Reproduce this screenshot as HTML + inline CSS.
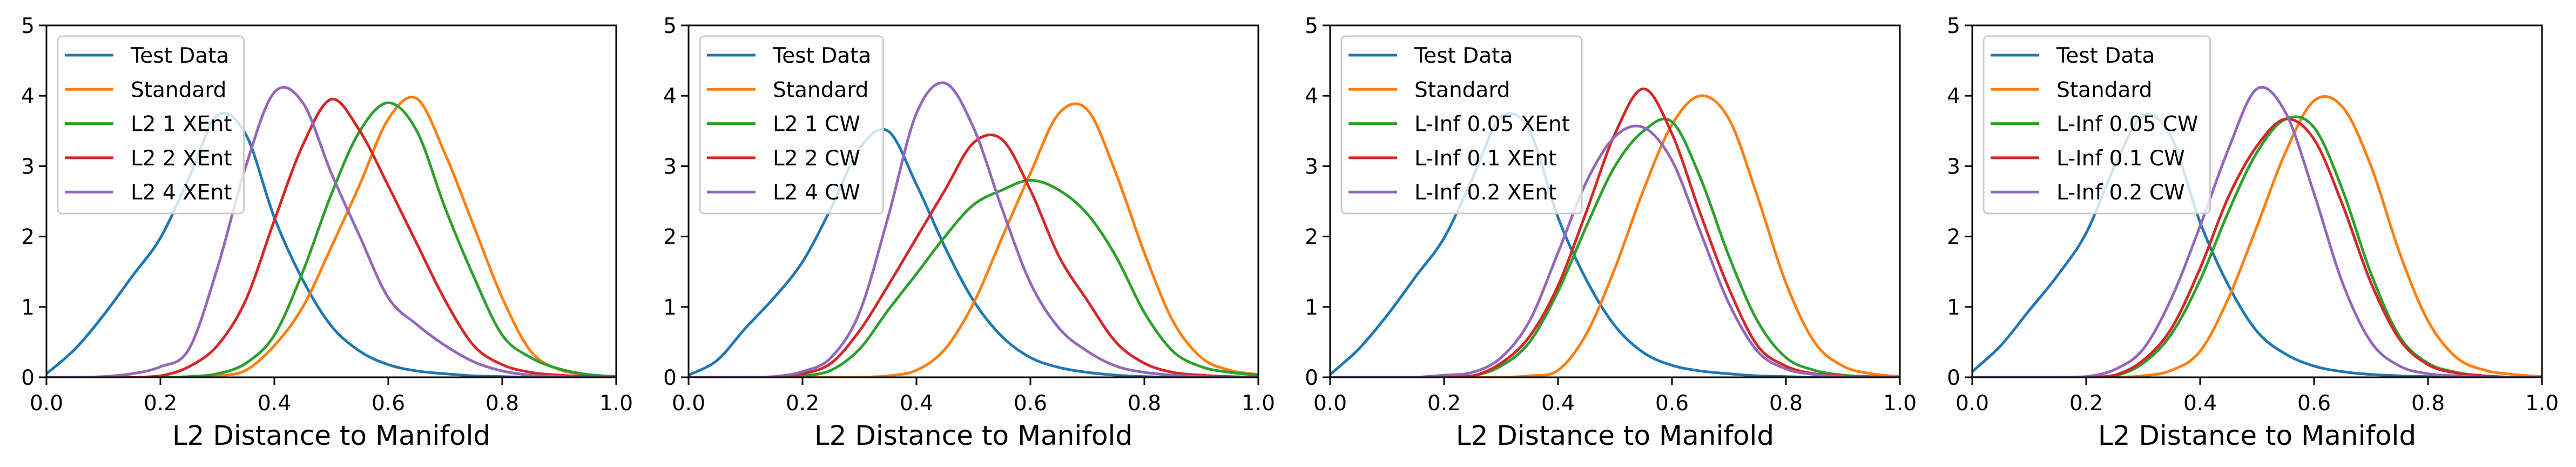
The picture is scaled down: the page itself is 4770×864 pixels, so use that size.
<!DOCTYPE html>
<html><head><meta charset="utf-8">
<style>
html,body{margin:0;padding:0;background:#fff;}
svg{display:block;}
text{font-family:"DejaVu Sans","Liberation Sans",sans-serif;fill:#000;}
</style></head>
<body>
<svg id="fig" width="4770" height="864" viewBox="0 0 4770 864" xmlns="http://www.w3.org/2000/svg"></svg>
<script>
const xGrid = [0,0.05,0.1,0.15,0.2,0.25,0.3,0.35,0.4,0.45,0.5,0.55,0.6,0.65,0.7,0.75,0.8,0.85,0.9,0.95,1.0];
const xTicks = [0,0.2,0.4,0.6,0.8,1.0];
const xTickLabels = ["0.0","0.2","0.4","0.6","0.8","1.0"];
const yTicks = [0,1,2,3,4,5];
const yTickLabels = ["0","1","2","3","4","5"];
const colors = ["#1f77b4","#ff7f0e","#2ca02c","#d62728","#9467bd"];

const p1Names = ["Test Data","Standard","L2 1 XEnt","L2 2 XEnt","L2 4 XEnt"];
const p1Test = [0.05,0.4,0.88,1.43,1.98,2.83,3.72,3.45,2.27,1.38,0.73,0.37,0.18,0.09,0.05,0.02,0.01,0,0,0,0];
const p1Std  = [0,0,0,0,0,0,0.02,0.1,0.45,1.0,1.85,2.74,3.67,3.96,3.17,2.15,1.13,0.37,0.11,0.04,0.01];
const p1A    = [0,0,0,0,0,0.01,0.05,0.2,0.6,1.5,2.6,3.5,3.9,3.5,2.4,1.43,0.6,0.28,0.12,0.04,0.01];
const p1B    = [0,0,0,0,0.02,0.15,0.45,1.1,2.23,3.3,3.95,3.5,2.72,1.9,1.09,0.45,0.18,0.07,0.03,0.01,0];
const p1C    = [0,0,0.01,0.05,0.15,0.4,1.55,3.0,4.05,3.9,2.9,2.0,1.13,0.75,0.45,0.22,0.09,0.03,0.01,0,0];

const p2Names = ["Test Data","Standard","L2 1 CW","L2 2 CW","L2 4 CW"];
const p2Test = [0.03,0.24,0.7,1.13,1.64,2.4,3.25,3.5,2.74,1.85,1.09,0.58,0.28,0.14,0.07,0.03,0.01,0,0,0,0];
const p2Std  = [0,0,0,0,0,0,0,0.02,0.1,0.4,1.05,1.98,2.9,3.75,3.8,2.9,1.77,0.8,0.28,0.1,0.04];
const p2A    = [0,0,0,0,0.02,0.1,0.4,0.95,1.47,2.0,2.45,2.66,2.8,2.66,2.32,1.72,0.92,0.37,0.15,0.07,0.03];
const p2B    = [0,0,0,0,0.05,0.2,0.66,1.3,1.98,2.66,3.33,3.38,2.66,1.72,1.09,0.5,0.2,0.07,0.03,0.01,0];
const p2C    = [0,0,0,0.01,0.08,0.28,0.92,2.27,3.75,4.18,3.55,2.4,1.34,0.7,0.37,0.16,0.07,0.03,0.01,0,0];

const p3Names = ["Test Data","Standard","L-Inf 0.05 XEnt","L-Inf 0.1 XEnt","L-Inf 0.2 XEnt"];
const p3Test = [0.04,0.4,0.88,1.43,1.98,2.83,3.7,3.5,2.27,1.38,0.73,0.35,0.17,0.09,0.05,0.02,0.01,0,0,0,0];
const p3Std  = [0,0,0,0,0,0,0,0.02,0.1,0.62,1.55,2.66,3.59,4.0,3.67,2.57,1.34,0.5,0.16,0.05,0.01];
const p3A    = [0,0,0,0,0,0.02,0.16,0.5,1.22,2.15,3.0,3.5,3.63,2.83,1.72,0.8,0.28,0.1,0.03,0.01,0];
const p3B    = [0,0,0,0,0,0.02,0.2,0.58,1.3,2.36,3.46,4.1,3.46,2.32,1.26,0.45,0.16,0.05,0.02,0,0];
const p3C    = [0,0,0,0,0.03,0.07,0.28,0.8,1.77,2.78,3.42,3.55,3.08,2.06,1.05,0.37,0.12,0.04,0.01,0,0];

const p4Names = ["Test Data","Standard","L-Inf 0.05 CW","L-Inf 0.1 CW","L-Inf 0.2 CW"];
const p4Test = [0.08,0.45,0.95,1.45,2.05,3.0,3.72,3.4,2.2,1.3,0.65,0.33,0.16,0.08,0.04,0.02,0.01,0,0,0,0];
const p4Std  = [0,0,0,0,0,0,0.02,0.1,0.37,1.13,2.15,3.2,3.93,3.84,3.0,1.77,0.8,0.28,0.1,0.04,0.01];
const p4A    = [0,0,0,0,0,0.02,0.2,0.62,1.38,2.36,3.2,3.67,3.55,2.66,1.47,0.58,0.2,0.07,0.02,0,0];
const p4B    = [0,0,0,0,0,0.03,0.24,0.7,1.55,2.57,3.29,3.67,3.38,2.45,1.34,0.54,0.18,0.06,0.02,0,0];
const p4C    = [0,0,0,0,0.01,0.11,0.4,1.13,2.15,3.25,4.1,3.76,2.61,1.34,0.5,0.16,0.05,0.02,0,0,0];

const panels = [
  {names:p1Names, series:[p1Test,p1Std,p1A,p1B,p1C]},
  {names:p2Names, series:[p2Test,p2Std,p2A,p2B,p2C]},
  {names:p3Names, series:[p3Test,p3Std,p3A,p3B,p3C]},
  {names:p4Names, series:[p4Test,p4Std,p4A,p4B,p4C]}
];

const NS="http://www.w3.org/2000/svg";
const svg=document.getElementById('fig');
const lefts=[86,1275,2463,3652], W=1055, TOP=47, BOT=698;
function mk(tag,attrs,parent){const e=document.createElementNS(NS,tag);for(const k in attrs)e.setAttribute(k,attrs[k]);(parent||svg).appendChild(e);return e;}

function pathFor(xs,ys,sx,sy){
  const P=xs.map((x,i)=>[sx(x),sy(ys[i])]);
  let d="M"+P[0][0].toFixed(1)+","+P[0][1].toFixed(1);
  for(let i=0;i<P.length-1;i++){
    const p0=P[Math.max(0,i-1)],p1=P[i],p2=P[i+1],p3=P[Math.min(P.length-1,i+2)];
    let c1y=p1[1]+(p2[1]-p0[1])/6, c2y=p2[1]-(p3[1]-p1[1])/6;
    const base=sy(0); c1y=Math.min(c1y,base); c2y=Math.min(c2y,base);
    d+=" C"+(p1[0]+(p2[0]-p0[0])/6).toFixed(1)+","+c1y.toFixed(1)+" "+(p2[0]-(p3[0]-p1[0])/6).toFixed(1)+","+c2y.toFixed(1)+" "+p2[0].toFixed(1)+","+p2[1].toFixed(1);
  }
  return d;
}

panels.forEach((pn,pi)=>{
  const L=lefts[pi];
  const sx=v=>L+v*W, sy=v=>BOT-v/5*(BOT-TOP);
  const g=mk('g',{});
  
  
  const clipId='clip'+pi;
  const cp=mk('clipPath',{id:clipId},g);
  mk('rect',{x:L,y:TOP,width:W,height:BOT-TOP},cp);
  const lines=mk('g',{'clip-path':'url(#'+clipId+')'},g);
  
  
  pn.series.forEach((ys,si)=>{
    const p=mk('path',{d:pathFor(xGrid,ys,sx,sy),fill:'none',stroke:colors[si],'stroke-width':5,'stroke-linejoin':'round'},lines);
    
    
  });
  const frame=mk('rect',{x:L,y:TOP,width:W,height:BOT-TOP,fill:'none',stroke:'#000','stroke-width':3},g);
  
  
  xTicks.forEach((t,i)=>{
    const x=sx(t);
    const tk=mk('line',{x1:x,x2:x,y1:BOT,y2:BOT+14,stroke:'#000','stroke-width':3},g);
    
    
    const tx=mk('text',{x:x,y:759,'font-size':39,'text-anchor':'middle'},g);
    tx.textContent=xTickLabels[i];
    
    
  });
  yTicks.forEach((t,i)=>{
    const y=sy(t);
    const tk=mk('line',{x1:L-14,x2:L,y1:y,y2:y,stroke:'#000','stroke-width':3},g);
    
    
    const tx=mk('text',{x:L-22,y:y+14,'font-size':39,'text-anchor':'end'},g);
    tx.textContent=yTickLabels[i];
    
    
  });
  const xl=mk('text',{x:L+W/2,y:823,'font-size':50,'text-anchor':'middle'},g);
  xl.textContent="L2 Distance to Manifold";
  
  
  const lg=mk('g',{},g);
  
  
  const box=mk('rect',{x:L+21,y:67,width:350,height:328,rx:8,fill:'#fff','fill-opacity':0.8,stroke:'#cccccc','stroke-width':3},lg);
  
  
  let maxW=0;
  pn.names.forEach((nm,i)=>{
    const y=102+i*63.3;
    const e=mk('g',{},lg);
    
    
    mk('line',{x1:L+34,x2:L+124,y1:y,y2:y,stroke:colors[i],'stroke-width':5},e);
    const t=mk('text',{x:L+156,y:y+14,'font-size':39},e);
    t.textContent=nm;
    maxW=Math.max(maxW,t.getComputedTextLength());
  });
  box.setAttribute('width',(156-21)+maxW+22);
});
</script>
</body></html>
